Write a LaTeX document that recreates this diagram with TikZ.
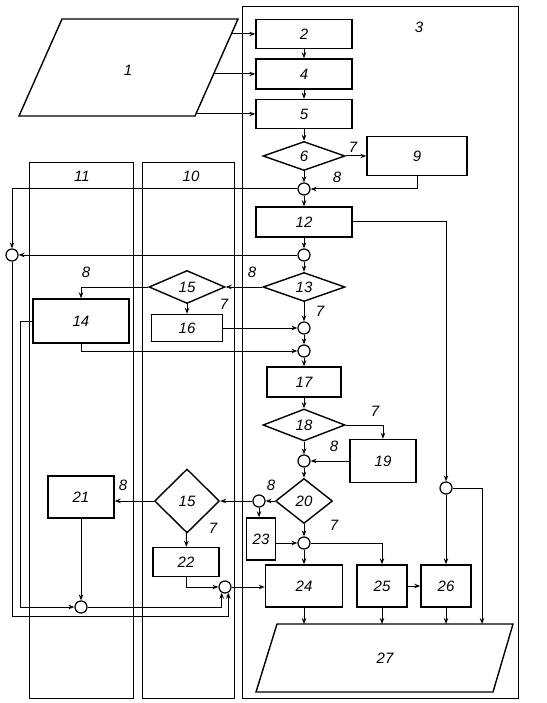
\documentclass[tikz,border=0pt]{standalone}
\usepackage{fontspec}
\setmainfont{Liberation Sans}
\usetikzlibrary{shapes.geometric,arrows.meta}

\tikzset{
  blk/.style={draw,line width=1.4pt,inner sep=0pt},
  dia/.style={draw,diamond,line width=1.4pt,inner sep=0pt},
  jn/.style={draw,circle,line width=1.2pt,minimum size=12pt,inner sep=0pt},
  frm/.style={draw,line width=1pt},
  lbl/.style={inner sep=0pt},
}

\begin{document}
\begin{tikzpicture}[x=1pt,y=-1pt,line width=1pt,>={Stealth[length=6pt,width=4.5pt]},
  font=\fontsize{15}{17}\selectfont\itshape]
\useasboundingbox (0,0) rectangle (546,703);
% frames
\draw[frm] (242,7) rectangle (518,698);
\draw[frm] (29,163) rectangle (133,698);
\draw[frm] (142,163) rectangle (234,698);
\node[lbl] (t3) at (419,27) {3};
\node[lbl] (t11) at (82,176) {11};
\node[lbl] (t10) at (191,176) {10};

% input 1
\draw[blk] (62,19) -- (238,19) -- (195,116) -- (19,116) -- cycle;
\node[lbl] (n1) at (128,70) {1};
\coordinate (o2) at (231.4,34);
\coordinate (o4) at (213.6,74);
\coordinate (o5) at (195.9,114);

% output 27
\draw[blk] (277,624) -- (513,624) -- (493,692) -- (256,692) -- cycle;
\node[lbl] (n27) at (385,658) {27};
\coordinate (i27) at (385,624);
\coordinate (e27) at (482,624);
\coordinate (f1) at (0,616);
\coordinate (f2) at (20,607);

% main column
\node[blk,minimum width=96pt,minimum height=29pt] (b2) at (304,34) {2};
\node[blk,minimum width=96pt,minimum height=30pt] (b4) at (304,74) {4};
\node[blk,minimum width=96pt,minimum height=29pt] (b5) at (304,114) {5};
\node[dia,minimum width=82pt,minimum height=29pt] (d6) at (304,156) {6};
\node[blk,minimum width=100pt,minimum height=39pt] (b9) at (417,156) {9};
\node[jn] (j1) at (304,189) {};
\node[blk,minimum width=96pt,minimum height=30pt] (b12) at (304,222) {12};
\node[jn] (j2) at (304,255) {};
\node[jn] (jL) at (12,255) {};
\node[dia,minimum width=82pt,minimum height=29pt] (d13) at (304,287) {13};
\node[dia,minimum width=76pt,minimum height=33pt] (d15a) at (187,287) {15};
\node[blk,minimum width=96pt,minimum height=44pt] (b14) at (81,321) {14};
\node[blk,minimum width=71pt,minimum height=27pt] (b16) at (187,328) {16};
\node[jn] (j3) at (304,328) {};
\node[jn] (j4) at (304,351) {};
\node[blk,minimum width=74pt,minimum height=30pt] (b17) at (304,382) {17};
\node[dia,minimum width=82pt,minimum height=32pt] (d18) at (304,425) {18};
\node[blk,minimum width=66pt,minimum height=43pt] (b19) at (383,461) {19};
\node[jn] (j5) at (304,461) {};
\node[dia,minimum width=57pt,minimum height=45pt] (d20) at (304,501) {20};
\node[jn] (j6) at (259,501) {};
\node[dia,minimum width=65pt,minimum height=64pt] (d15b) at (187,501) {15};
\node[blk,minimum width=66pt,minimum height=42pt] (b21) at (81,497) {21};
\node[blk,minimum width=66pt,minimum height=29pt] (b22) at (186,562) {22};
\node[blk,minimum width=29pt,minimum height=42pt] (b23) at (261,539) {23};
\node[jn] (j7) at (304,543) {};
\node[blk,minimum width=77pt,minimum height=42pt] (b24) at (304,586) {24};
\node[blk,minimum width=50pt,minimum height=42pt] (b25) at (382,586) {25};
\node[blk,minimum width=50pt,minimum height=42pt] (b26) at (446,586) {26};
\node[jn] (j8) at (446,488) {};
\node[jn] (j9) at (81,607) {};
\node[jn] (j10) at (225,587) {};

% branch labels
\node[lbl] (l7a) at (353,147) {7};
\node[lbl] (l8a) at (337,177) {8};
\node[lbl] (l8b) at (252,272) {8};
\node[lbl] (l8c) at (86,272) {8};
\node[lbl] (l7b) at (224,304) {7};
\node[lbl] (l7c) at (320,311) {7};
\node[lbl] (l7d) at (375,411) {7};
\node[lbl] (l8d) at (334,446) {8};
\node[lbl] (l8e) at (271,485) {8};
\node[lbl] (l8f) at (123,485) {8};
\node[lbl] (l7e) at (213,528) {7};
\node[lbl] (l7f) at (334,525) {7};

\draw[->] (o2) -- (b2);
\draw[->] (o4) -- (b4);
\draw[->] (o5) -- (o5 -| b5.west);
\draw[->] (b2) -- (b4);
\draw[->] (b4) -- (b5);
\draw[->] (b5) -- (d6);
\draw[->] (d6) -- (b9);
\draw[->] (d6) -- (j1);
\draw[->] (b9) |- (j1);
\draw[->] (j1) -- (b12);
\draw[->] (j1) -| (jL);
\draw[->] (b12) -- (j2);
\draw[->] (b12) -| (j8);
\draw[->] (j2) -- (jL);
\draw[->] (j2) -- (d13);
\draw[->] (d13) -- (d15a);
\draw[->] (d15a) -| (b14);
\draw[->] (d15a) -- (b16);
\draw[->] (d13) -- (j3);
\draw[->] (b16) -- (j3);
\draw[->] (j3) -- (j4);
\draw[->] (b14.south) |- (j4);
\draw[->] (j4) -- (b17);
\draw[->] (b17) -- (d18);
\draw[->] (d18) -| (b19);
\draw[->] (d18) -- (j5);
\draw[->] (b19) -- (j5);
\draw[->] (j5) -- (d20);
\draw[->] (d20) -- (j6);
\draw[->] (j6) -- (d15b);
\draw[->] (j6) -- (j6 |- b23.north);
\draw[->] (d15b) -- (d15b -| b21.east);
\draw[->] (d15b) -- (b22);
\draw[->] (b21) -- (j9);
\draw[->] (b23.east |- j7) -- (j7);
\draw[->] (d20) -- (j7);
\draw[->] (j7) -- (b24);
\draw[->] (j7) -| (b25);
\draw[->] (b25) -- (b26);
\draw[->] (j8) -- (b26);
\draw[->] (j8) -| (e27);
\draw[->] (b24) -- (b24 |- i27);
\draw[->] (b25) -- (b25 |- i27);
\draw[->] (b26) -- (b26 |- i27);
\draw[->] (b22.south) |- (j10);
\draw[->] (j10) -- (j10 -| b24.west);
\draw[->] (b14.west) -| (f2) -- (j9);
\draw[->] (j9) -| (j10.-120);
\draw[->] (jL) |- (j10.-60 |- f1) -- (j10.-60);
\end{tikzpicture}
\end{document}
